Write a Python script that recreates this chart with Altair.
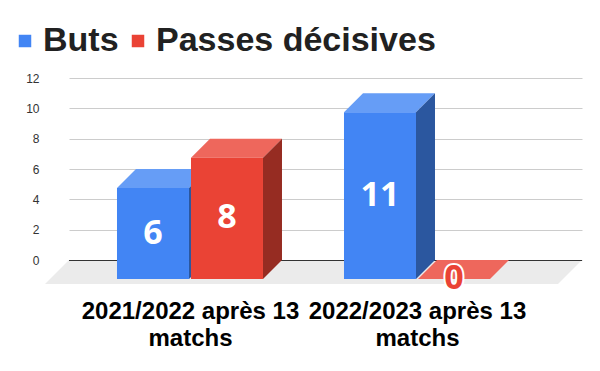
import json
import altair as alt
import pandas as pd

# ---- data ----
categories = ["2021/2022 après 13 matchs", "2022/2023 après 13 matchs"]
series = ["Buts", "Passes décisives"]
buts = [6, 11]
passes = [8, 0]
y_ticks = [0, 2, 4, 6, 8, 10, 12]

# ---- style ----
FRONT = ["#4285F4", "#EA4335"]
TOP = ["#669DF6", "#EE675C"]
SIDE = ["#2B579F", "#962C22"]
FLOOR = "#EBEBEB"

W, H = 513, 182
X_DOMAIN = [-0.6167, 1.6432]
Y_DOMAIN = [0, 12]
px_x = W / (X_DOMAIN[1] - X_DOMAIN[0])
px_y = H / (Y_DOMAIN[1] - Y_DOMAIN[0])
DEPTH = 19
FLOOR_DEPTH = 24
dx, dy = DEPTH / px_x, DEPTH / px_y
fdx, fdy = FLOOR_DEPTH / px_x, FLOOR_DEPTH / px_y
BAR_W = 72 / px_x
BAR_STEP = 74 / px_x

values = {series[0]: buts, series[1]: passes}
front_rows, top_rows, side_rows, label_rows = [], [], [], []
for i, cat in enumerate(categories):
    for j, s in enumerate(series):
        v = values[s][i]
        c = i + (j - 0.5) * BAR_STEP
        xl, xr = c - BAR_W / 2, c + BAR_W / 2
        bid = f"{i}-{j}"
        front_rows.append(dict(series=s, x=xl - dx, x2=xr - dx, y=-dy, y2=v - dy))
        top_rows += [dict(series=s, id=bid, y=v - dy, x=xl - dx, x2=xr - dx),
                     dict(series=s, id=bid, y=v, x=xl, x2=xr)]
        side_rows += [dict(series=s, id=bid, x=xr - dx, y=-dy, y2=v - dy),
                      dict(series=s, id=bid, x=xr, y=0, y2=v)]
        label_rows.append(dict(series=s, value=v, x=c - dx, y=v / 2 - dy))

floor_df = pd.DataFrame([
    dict(y=-fdy, x=X_DOMAIN[0] - fdx, x2=X_DOMAIN[1] - fdx),
    dict(y=0, x=X_DOMAIN[0], x2=X_DOMAIN[1]),
])
zero_df = pd.DataFrame([dict(y=0, x=X_DOMAIN[0], x2=X_DOMAIN[1])])
front_df = pd.DataFrame(front_rows)
top_df = pd.DataFrame(top_rows)
side_df = pd.DataFrame(side_rows)
label_df = pd.DataFrame(label_rows)

xs = alt.Scale(domain=X_DOMAIN, nice=False, zero=False)
ys = alt.Scale(domain=Y_DOMAIN, nice=False, zero=False)

lines = [c.rsplit(" ", 1) for c in categories]
label_expr = f"{json.dumps(lines, ensure_ascii=False)}[round(datum.value + {dx})]"

x_axis = alt.Axis(values=[i - dx for i in range(len(categories))], labelExpr=label_expr,
                  title=None, grid=False, domain=False, ticks=False, labelPadding=39,
                  labelFont="Liberation Sans", labelFontSize=24, labelFontWeight="bold",
                  labelColor="#000000", labelLineHeight=27, labelLimit=400,
                  labelOverlap=False, labelFlush=False, labelBaseline="top")
y_axis = alt.Axis(values=y_ticks, title=None, grid=True, gridColor="#CCCCCC", domain=False,
                  ticks=False, labelPadding=30, labelFont="Liberation Sans", labelFontSize=12,
                  labelColor="#333333", labelFlush=False)

X = lambda f="x": alt.X(f"{f}:Q", scale=xs, axis=x_axis)
Y = lambda f="y": alt.Y(f"{f}:Q", scale=ys, axis=y_axis)

floor = alt.Chart(floor_df).mark_area(orient="horizontal", color=FLOOR).encode(
    y=Y(), x=X(), x2="x2:Q",
)
zero = alt.Chart(zero_df).mark_rule(color="#333333", strokeWidth=1, yOffset=0.5).encode(
    y=Y(), x=X(), x2="x2:Q",
)
top = alt.Chart(top_df).mark_area(orient="horizontal").encode(
    y=Y(), x=X(), x2="x2:Q",
    detail="id:N",
    color=alt.Color("series:N", scale=alt.Scale(domain=series, range=TOP), legend=None),
)
side = alt.Chart(side_df).mark_area(orient="vertical").encode(
    x=X(), y=Y(), y2="y2:Q",
    detail="id:N",
    color=alt.Color("series:N", scale=alt.Scale(domain=series, range=SIDE), legend=None),
)
front = alt.Chart(front_df).mark_rect().encode(
    x=X(), x2="x2:Q", y=Y(), y2="y2:Q",
    color=alt.Color("series:N", scale=alt.Scale(domain=series, range=FRONT),
                    legend=alt.Legend(orient="none", legendX=-61, legendY=-54,
                                      direction="horizontal", title=None,
                                      symbolType="square", symbolSize=156,
                                      symbolStrokeWidth=0, labelFont="Liberation Sans",
                                      labelFontSize=34, labelFontWeight="bold",
                                      labelColor="#212121", labelOffset=1,
                                      columnPadding=2, labelLimit=400, padding=0)),
)
halo = alt.Chart(label_df).transform_filter("datum.value == 0").mark_text(
    font="Open Sans", fontWeight="bold", fontSize=34, align="center", baseline="middle",
    stroke="white", strokeWidth=4, fill="white",
).encode(x=X(), y=Y(), text="value:Q")
text = alt.Chart(label_df).mark_text(
    font="Open Sans", fontWeight="bold", fontSize=34, align="center", baseline="middle",
).encode(
    x=X(), y=Y(), text="value:Q",
    color=alt.condition("datum.value == 0", alt.value(FRONT[1]), alt.value("white")),
)

chart = alt.layer(floor, zero, top, side, front, halo, text).resolve_scale(
    color="independent"
).properties(
    width=W, height=H,
    autosize=alt.AutoSizeParams(type="none"),
    padding={"left": 61, "top": 70, "right": 10, "bottom": 100},
    background="white",
).configure_view(stroke=None)

chart.save("out.html", embed_options={"renderer": "svg", "actions": False})
